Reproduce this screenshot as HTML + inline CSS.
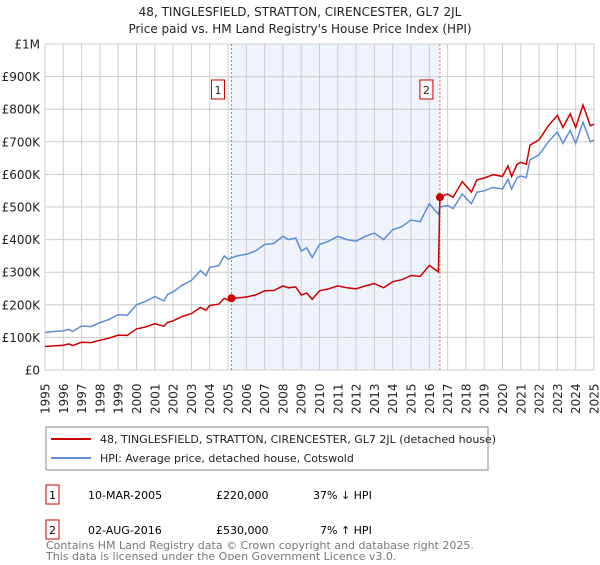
<!DOCTYPE html>
<html><head><meta charset="utf-8"><style>
body{margin:0;background:#fff;font-family:"Liberation Sans","DejaVu Sans",sans-serif;}
svg text{font-family:"DejaVu Sans","Liberation Sans",sans-serif;}
</style></head><body>
<svg id="c" width="600" height="560" xmlns="http://www.w3.org/2000/svg">
<text x="300" y="16" font-size="12" text-anchor="middle" fill="#222">48, TINGLESFIELD, STRATTON, CIRENCESTER, GL7 2JL</text>
<text x="300" y="33" font-size="12" text-anchor="middle" fill="#222">Price paid vs. HM Land Registry's House Price Index (HPI)</text>
<g id="grid"></g><g id="series"></g><g id="marks"></g>
<rect x="46" y="427" width="442" height="43" fill="#fff" stroke="#888"/>
<line x1="51" y1="439" x2="91" y2="439" stroke="#cc0000" stroke-width="2"/>
<text x="100" y="443" font-size="11" fill="#222">48, TINGLESFIELD, STRATTON, CIRENCESTER, GL7 2JL (detached house)</text>
<line x1="51" y1="458" x2="91" y2="458" stroke="#5b8ed6" stroke-width="2"/>
<text x="100" y="462" font-size="11" fill="#222">HPI: Average price, detached house, Cotswold</text>
<g>
<rect x="46" y="485" width="13" height="19" fill="#fff" stroke="#cc0000"/><text x="52.5" y="499" font-size="11" text-anchor="middle">1</text>
<text x="88" y="499" font-size="11">10-MAR-2005</text><text x="216" y="499" font-size="11">£220,000</text><text x="313" y="499" font-size="11">37% ↓ HPI</text></g>
<g>
<rect x="46" y="520" width="13" height="19" fill="#fff" stroke="#cc0000"/><text x="52.5" y="534" font-size="11" text-anchor="middle">2</text>
<text x="88" y="534" font-size="11">02-AUG-2016</text><text x="216" y="534" font-size="11">£530,000</text><text x="320" y="534" font-size="11">7% ↑ HPI</text></g>
<text x="46" y="549" font-size="11" fill="#777">Contains HM Land Registry data © Crown copyright and database right 2025.</text>
<text x="46" y="560" font-size="11" fill="#777">This data is licensed under the Open Government Licence v3.0.</text>
</svg>
<script>
const yTicks=[0,100,200,300,400,500,600,700,800,900,1000];
const yTickLabels=["£0","£100K","£200K","£300K","£400K","£500K","£600K","£700K","£800K","£900K","£1M"];
const years=[1995,1996,1997,1998,1999,2000,2001,2002,2003,2004,2005,2006,2007,2008,2009,2010,2011,2012,2013,2014,2015,2016,2017,2018,2019,2020,2021,2022,2023,2024,2025];
const hpiT=[1995,1995.5,1996,1996.3,1996.5,1997,1997.5,1998,1998.5,1999,1999.5,2000,2000.5,2001,2001.5,2001.7,2002,2002.5,2003,2003.5,2003.8,2004,2004.5,2004.8,2005,2005.5,2006,2006.5,2007,2007.5,2008,2008.3,2008.7,2009,2009.3,2009.6,2010,2010.5,2011,2011.5,2012,2012.5,2013,2013.5,2014,2014.5,2015,2015.5,2016,2016.5,2016.6,2017,2017.3,2017.8,2018.3,2018.6,2019,2019.5,2020,2020.3,2020.5,2020.8,2021,2021.3,2021.5,2022,2022.5,2023,2023.3,2023.7,2024,2024.4,2024.8,2025];
const hpiV=[115,118,120,125,118,135,133,145,155,170,168,200,210,225,212,232,240,260,275,305,290,315,320,350,340,350,355,365,385,388,410,400,405,365,375,345,385,395,410,400,395,410,420,400,430,440,460,455,510,478,500,505,495,540,510,545,550,560,555,585,555,590,595,590,645,660,700,730,695,735,695,760,700,705];
const ppT=[1995,1995.5,1996,1996.3,1996.5,1997,1997.5,1998,1998.5,1999,1999.5,2000,2000.5,2001,2001.5,2001.7,2002,2002.5,2003,2003.5,2003.8,2004,2004.5,2004.8,2005,2005.19,2005.5,2006,2006.5,2007,2007.5,2008,2008.3,2008.7,2009,2009.3,2009.6,2010,2010.5,2011,2011.5,2012,2012.5,2013,2013.5,2014,2014.5,2015,2015.5,2016,2016.5,2016.58,2017,2017.3,2017.8,2018.3,2018.6,2019,2019.5,2020,2020.3,2020.5,2020.8,2021,2021.3,2021.5,2022,2022.5,2023,2023.3,2023.7,2024,2024.4,2024.8,2025];
const ppV=[72,74,76,80,75,85,84,91,98,107,106,126,132,142,134,146,151,164,173,192,183,198,202,220,214,220,221,224,230,243,244,258,252,255,230,236,217,243,249,258,252,249,258,265,252,271,277,290,287,321,301,530,540,530,578,546,583,589,599,594,626,594,631,637,631,690,706,749,781,744,786,744,813,749,754];
const saleT=[2005.19,2016.58];
const saleV=[220,530];
const saleLabels=["1","2"];
const X0=45,X1=594,Y0=370,Y1=44;
const x=t=>X0+(t-1995)/30*(X1-X0);
const y=v=>Y0-v/1000*(Y0-Y1);
const NS="http://www.w3.org/2000/svg";
function mk(tag,attrs,parent){const e=document.createElementNS(NS,tag);for(const k in attrs)e.setAttribute(k,attrs[k]);parent.appendChild(e);return e;}
const grid=document.getElementById('grid'),series=document.getElementById('series'),marks=document.getElementById('marks');
let sh=mk('rect',{x:x(saleT[0]),y:Y1,width:x(saleT[1])-x(saleT[0]),height:Y0-Y1,fill:'#eef3fc'},grid);


years.forEach(yr=>{
 const l=mk('line',{x1:x(yr),x2:x(yr),y1:Y1,y2:Y0,stroke:'#ccc','stroke-width':1},grid);
 
 
 const t=mk('text',{transform:`translate(${x(yr)+4.5},${Y0+44}) rotate(-90)`,'font-size':12,fill:'#222'},grid);
 t.textContent=yr;
 
 
});
yTicks.forEach((v,i)=>{
 const l=mk('line',{x1:X0,x2:X1,y1:y(v),y2:y(v),stroke:'#ccc','stroke-width':1},grid);
 
 
 const t=mk('text',{x:X0-5,y:y(v)+4.5,'font-size':12,'text-anchor':'end',fill:'#222'},grid);
 t.textContent=yTickLabels[i];
 
 
});
saleT.forEach((t,i)=>{
 const l=mk('line',{x1:x(t),x2:x(t),y1:Y1,y2:Y0,stroke:'#e66','stroke-width':1,'stroke-dasharray':'2,2'},grid);
 
 
});
const path=(T,V)=>T.map((t,i)=>(i?'L':'M')+x(t).toFixed(1)+','+y(V[i]).toFixed(1)).join('');
const h=mk('path',{d:path(hpiT,hpiV),fill:'none',stroke:'#5b8ed6','stroke-width':1.5},series);


const p=mk('path',{d:path(ppT,ppV),fill:'none',stroke:'#cc0000','stroke-width':1.5},series);


saleT.forEach((t,i)=>{
 const c=mk('circle',{cx:x(t),cy:y(saleV[i]),r:4,fill:'#cc0000'},marks);
 
 
 const bx=x(t)-14;
 const r=mk('rect',{x:bx-6,y:80,width:13,height:19,fill:'#fff',stroke:'#cc0000'},marks);
 
 
 const tx=mk('text',{x:bx+0.5,y:94,'font-size':11,'text-anchor':'middle',fill:'#222'},marks);
 tx.textContent=saleLabels[i];
 
 
});
</script>
</body></html>
